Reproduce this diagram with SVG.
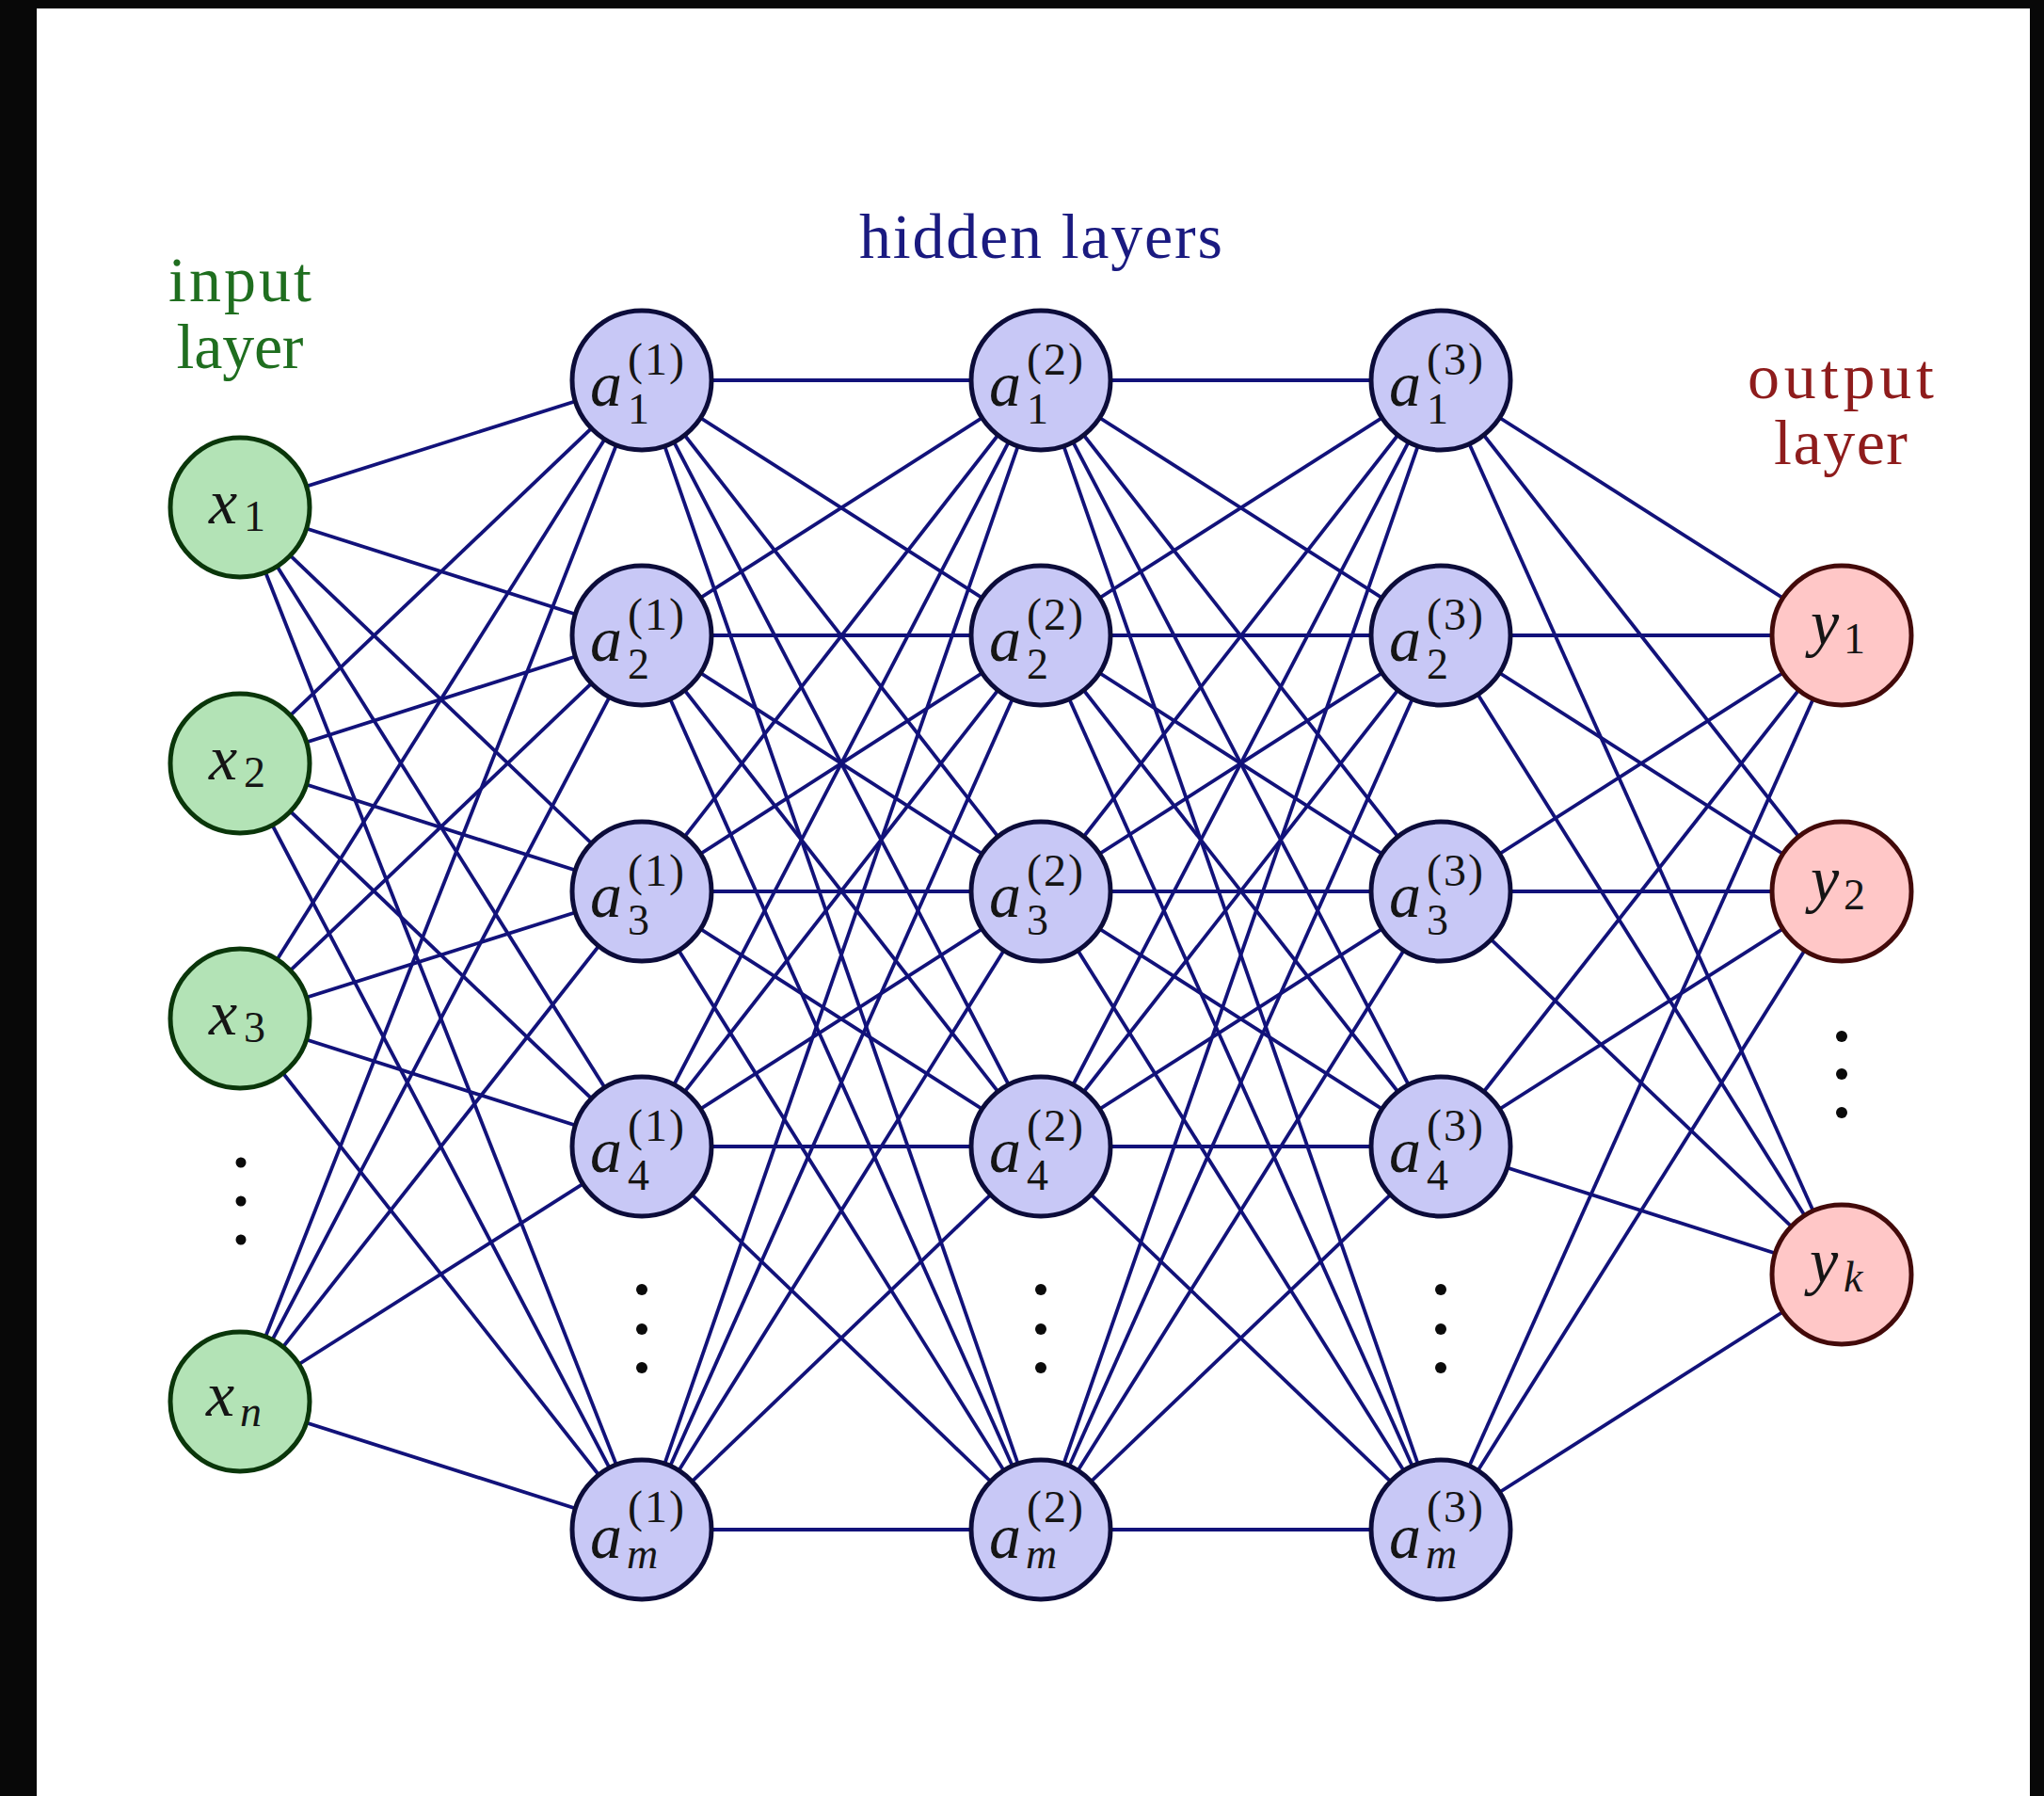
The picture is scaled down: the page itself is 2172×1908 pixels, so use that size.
<svg xmlns="http://www.w3.org/2000/svg" width="2172" height="1908" viewBox="0 0 2172 1908">
<style>
.bg{fill:#ffffff}
.frame{fill:#080808}
.edge{stroke:#12127a;stroke-width:3.8;fill:none}
.in{fill:#b3e3b6;stroke:#0a360a;stroke-width:5}
.hid{fill:#c8c8f6;stroke:#0c0c3a;stroke-width:5}
.out{fill:#ffc7c7;stroke:#430a0a;stroke-width:5}
.m{font-family:"Liberation Serif","Times New Roman",serif;font-style:italic;font-size:68px;fill:#151515}
.s{font-family:"Liberation Serif","Times New Roman",serif;font-size:46px;fill:#151515}
.si{font-family:"Liberation Serif","Times New Roman",serif;font-style:italic;font-size:46px;fill:#151515}
.sup{font-family:"Liberation Serif","Times New Roman",serif;font-size:48px;fill:#151515}
.title{font-family:"Liberation Serif","Times New Roman",serif;font-size:68px;text-anchor:middle}
.dot{fill:#0a0a0a}
</style>
<rect class="bg" x="0" y="0" width="2172" height="1908"/>
<rect class="frame" x="0" y="0" width="39" height="1908"/>
<rect class="frame" x="0" y="0" width="2172" height="9"/>
<rect class="frame" x="2157" y="0" width="15" height="1908"/>

<g id="labels">
<text class="title" fill="#1f6e1f"><tspan x="255" y="320" textLength="152" lengthAdjust="spacing">input</tspan><tspan x="255" y="391" textLength="135" lengthAdjust="spacing">layer</tspan></text>
<text class="title" x="1106" y="274" fill="#1a1a80" textLength="386" lengthAdjust="spacing">hidden layers</text>
<text class="title" fill="#8e1c1c"><tspan x="1956" y="423" textLength="198" lengthAdjust="spacing">output</tspan><tspan x="1956" y="493" textLength="142" lengthAdjust="spacing">layer</tspan></text>
</g>

<g id="connectors">
<line class="edge" x1="255" y1="539" x2="682" y2="404"/>
<line class="edge" x1="255" y1="539" x2="682" y2="675"/>
<line class="edge" x1="255" y1="539" x2="682" y2="947"/>
<line class="edge" x1="255" y1="539" x2="682" y2="1218"/>
<line class="edge" x1="255" y1="539" x2="682" y2="1625"/>
<line class="edge" x1="255" y1="811" x2="682" y2="404"/>
<line class="edge" x1="255" y1="811" x2="682" y2="675"/>
<line class="edge" x1="255" y1="811" x2="682" y2="947"/>
<line class="edge" x1="255" y1="811" x2="682" y2="1218"/>
<line class="edge" x1="255" y1="811" x2="682" y2="1625"/>
<line class="edge" x1="255" y1="1082" x2="682" y2="404"/>
<line class="edge" x1="255" y1="1082" x2="682" y2="675"/>
<line class="edge" x1="255" y1="1082" x2="682" y2="947"/>
<line class="edge" x1="255" y1="1082" x2="682" y2="1218"/>
<line class="edge" x1="255" y1="1082" x2="682" y2="1625"/>
<line class="edge" x1="255" y1="1489" x2="682" y2="404"/>
<line class="edge" x1="255" y1="1489" x2="682" y2="675"/>
<line class="edge" x1="255" y1="1489" x2="682" y2="947"/>
<line class="edge" x1="255" y1="1489" x2="682" y2="1218"/>
<line class="edge" x1="255" y1="1489" x2="682" y2="1625"/>

<line class="edge" x1="682" y1="404" x2="1106" y2="404"/>
<line class="edge" x1="682" y1="404" x2="1106" y2="675"/>
<line class="edge" x1="682" y1="404" x2="1106" y2="947"/>
<line class="edge" x1="682" y1="404" x2="1106" y2="1218"/>
<line class="edge" x1="682" y1="404" x2="1106" y2="1625"/>
<line class="edge" x1="682" y1="675" x2="1106" y2="404"/>
<line class="edge" x1="682" y1="675" x2="1106" y2="675"/>
<line class="edge" x1="682" y1="675" x2="1106" y2="947"/>
<line class="edge" x1="682" y1="675" x2="1106" y2="1218"/>
<line class="edge" x1="682" y1="675" x2="1106" y2="1625"/>
<line class="edge" x1="682" y1="947" x2="1106" y2="404"/>
<line class="edge" x1="682" y1="947" x2="1106" y2="675"/>
<line class="edge" x1="682" y1="947" x2="1106" y2="947"/>
<line class="edge" x1="682" y1="947" x2="1106" y2="1218"/>
<line class="edge" x1="682" y1="947" x2="1106" y2="1625"/>
<line class="edge" x1="682" y1="1218" x2="1106" y2="404"/>
<line class="edge" x1="682" y1="1218" x2="1106" y2="675"/>
<line class="edge" x1="682" y1="1218" x2="1106" y2="947"/>
<line class="edge" x1="682" y1="1218" x2="1106" y2="1218"/>
<line class="edge" x1="682" y1="1218" x2="1106" y2="1625"/>
<line class="edge" x1="682" y1="1625" x2="1106" y2="404"/>
<line class="edge" x1="682" y1="1625" x2="1106" y2="675"/>
<line class="edge" x1="682" y1="1625" x2="1106" y2="947"/>
<line class="edge" x1="682" y1="1625" x2="1106" y2="1218"/>
<line class="edge" x1="682" y1="1625" x2="1106" y2="1625"/>

<line class="edge" x1="1106" y1="404" x2="1531" y2="404"/>
<line class="edge" x1="1106" y1="404" x2="1531" y2="675"/>
<line class="edge" x1="1106" y1="404" x2="1531" y2="947"/>
<line class="edge" x1="1106" y1="404" x2="1531" y2="1218"/>
<line class="edge" x1="1106" y1="404" x2="1531" y2="1625"/>
<line class="edge" x1="1106" y1="675" x2="1531" y2="404"/>
<line class="edge" x1="1106" y1="675" x2="1531" y2="675"/>
<line class="edge" x1="1106" y1="675" x2="1531" y2="947"/>
<line class="edge" x1="1106" y1="675" x2="1531" y2="1218"/>
<line class="edge" x1="1106" y1="675" x2="1531" y2="1625"/>
<line class="edge" x1="1106" y1="947" x2="1531" y2="404"/>
<line class="edge" x1="1106" y1="947" x2="1531" y2="675"/>
<line class="edge" x1="1106" y1="947" x2="1531" y2="947"/>
<line class="edge" x1="1106" y1="947" x2="1531" y2="1218"/>
<line class="edge" x1="1106" y1="947" x2="1531" y2="1625"/>
<line class="edge" x1="1106" y1="1218" x2="1531" y2="404"/>
<line class="edge" x1="1106" y1="1218" x2="1531" y2="675"/>
<line class="edge" x1="1106" y1="1218" x2="1531" y2="947"/>
<line class="edge" x1="1106" y1="1218" x2="1531" y2="1218"/>
<line class="edge" x1="1106" y1="1218" x2="1531" y2="1625"/>
<line class="edge" x1="1106" y1="1625" x2="1531" y2="404"/>
<line class="edge" x1="1106" y1="1625" x2="1531" y2="675"/>
<line class="edge" x1="1106" y1="1625" x2="1531" y2="947"/>
<line class="edge" x1="1106" y1="1625" x2="1531" y2="1218"/>
<line class="edge" x1="1106" y1="1625" x2="1531" y2="1625"/>

<line class="edge" x1="1531" y1="404" x2="1957" y2="675"/>
<line class="edge" x1="1531" y1="404" x2="1957" y2="947"/>
<line class="edge" x1="1531" y1="404" x2="1957" y2="1354"/>
<line class="edge" x1="1531" y1="675" x2="1957" y2="675"/>
<line class="edge" x1="1531" y1="675" x2="1957" y2="947"/>
<line class="edge" x1="1531" y1="675" x2="1957" y2="1354"/>
<line class="edge" x1="1531" y1="947" x2="1957" y2="675"/>
<line class="edge" x1="1531" y1="947" x2="1957" y2="947"/>
<line class="edge" x1="1531" y1="947" x2="1957" y2="1354"/>
<line class="edge" x1="1531" y1="1218" x2="1957" y2="675"/>
<line class="edge" x1="1531" y1="1218" x2="1957" y2="947"/>
<line class="edge" x1="1531" y1="1218" x2="1957" y2="1354"/>
<line class="edge" x1="1531" y1="1625" x2="1957" y2="675"/>
<line class="edge" x1="1531" y1="1625" x2="1957" y2="947"/>
<line class="edge" x1="1531" y1="1625" x2="1957" y2="1354"/>
</g>

<!-- input layer -->
<g id="x1"><circle class="in" cx="255" cy="539" r="74"/><text class="m" x="222" y="556">x</text><text class="s" x="259" y="564">1</text></g>
<g id="x2"><circle class="in" cx="255" cy="811" r="74"/><text class="m" x="222" y="828">x</text><text class="s" x="259" y="836">2</text></g>
<g id="x3"><circle class="in" cx="255" cy="1082" r="74"/><text class="m" x="222" y="1099">x</text><text class="s" x="259" y="1107">3</text></g>
<g id="xn"><circle class="in" cx="255" cy="1489" r="74"/><text class="m" x="219" y="1504">x</text><text class="si" x="255" y="1515">n</text></g>
<g id="input-dots"><circle class="dot" cx="256" cy="1235" r="5.5"/><circle class="dot" cx="256" cy="1276" r="5.5"/><circle class="dot" cx="256" cy="1317" r="5.5"/></g>

<!-- hidden layer 1 -->
<g id="a1-1"><circle class="hid" cx="682" cy="404" r="74"/><text class="m" x="627" y="431">a</text><text class="s" x="667" y="450">1</text><text class="sup" x="667" y="398" textLength="60" lengthAdjust="spacing">(1)</text></g>
<g id="a2-1"><circle class="hid" cx="682" cy="675" r="74"/><text class="m" x="627" y="702">a</text><text class="s" x="667" y="721">2</text><text class="sup" x="667" y="669" textLength="60" lengthAdjust="spacing">(1)</text></g>
<g id="a3-1"><circle class="hid" cx="682" cy="947" r="74"/><text class="m" x="627" y="974">a</text><text class="s" x="667" y="993">3</text><text class="sup" x="667" y="941" textLength="60" lengthAdjust="spacing">(1)</text></g>
<g id="a4-1"><circle class="hid" cx="682" cy="1218" r="74"/><text class="m" x="627" y="1245">a</text><text class="s" x="667" y="1264">4</text><text class="sup" x="667" y="1212" textLength="60" lengthAdjust="spacing">(1)</text></g>
<g id="am-1"><circle class="hid" cx="682" cy="1625" r="74"/><text class="m" x="627" y="1655">a</text><text class="si" x="666" y="1666">m</text><text class="sup" x="667" y="1617" textLength="60" lengthAdjust="spacing">(1)</text></g>
<g id="hidden1-dots"><circle class="dot" cx="682" cy="1370" r="6"/><circle class="dot" cx="682" cy="1412" r="6"/><circle class="dot" cx="682" cy="1453" r="6"/></g>

<!-- hidden layer 2 -->
<g id="a1-2"><circle class="hid" cx="1106" cy="404" r="74"/><text class="m" x="1051" y="431">a</text><text class="s" x="1091" y="450">1</text><text class="sup" x="1091" y="398" textLength="60" lengthAdjust="spacing">(2)</text></g>
<g id="a2-2"><circle class="hid" cx="1106" cy="675" r="74"/><text class="m" x="1051" y="702">a</text><text class="s" x="1091" y="721">2</text><text class="sup" x="1091" y="669" textLength="60" lengthAdjust="spacing">(2)</text></g>
<g id="a3-2"><circle class="hid" cx="1106" cy="947" r="74"/><text class="m" x="1051" y="974">a</text><text class="s" x="1091" y="993">3</text><text class="sup" x="1091" y="941" textLength="60" lengthAdjust="spacing">(2)</text></g>
<g id="a4-2"><circle class="hid" cx="1106" cy="1218" r="74"/><text class="m" x="1051" y="1245">a</text><text class="s" x="1091" y="1264">4</text><text class="sup" x="1091" y="1212" textLength="60" lengthAdjust="spacing">(2)</text></g>
<g id="am-2"><circle class="hid" cx="1106" cy="1625" r="74"/><text class="m" x="1051" y="1655">a</text><text class="si" x="1090" y="1666">m</text><text class="sup" x="1091" y="1617" textLength="60" lengthAdjust="spacing">(2)</text></g>
<g id="hidden2-dots"><circle class="dot" cx="1106" cy="1370" r="6"/><circle class="dot" cx="1106" cy="1412" r="6"/><circle class="dot" cx="1106" cy="1453" r="6"/></g>

<!-- hidden layer 3 -->
<g id="a1-3"><circle class="hid" cx="1531" cy="404" r="74"/><text class="m" x="1476" y="431">a</text><text class="s" x="1516" y="450">1</text><text class="sup" x="1516" y="398" textLength="60" lengthAdjust="spacing">(3)</text></g>
<g id="a2-3"><circle class="hid" cx="1531" cy="675" r="74"/><text class="m" x="1476" y="702">a</text><text class="s" x="1516" y="721">2</text><text class="sup" x="1516" y="669" textLength="60" lengthAdjust="spacing">(3)</text></g>
<g id="a3-3"><circle class="hid" cx="1531" cy="947" r="74"/><text class="m" x="1476" y="974">a</text><text class="s" x="1516" y="993">3</text><text class="sup" x="1516" y="941" textLength="60" lengthAdjust="spacing">(3)</text></g>
<g id="a4-3"><circle class="hid" cx="1531" cy="1218" r="74"/><text class="m" x="1476" y="1245">a</text><text class="s" x="1516" y="1264">4</text><text class="sup" x="1516" y="1212" textLength="60" lengthAdjust="spacing">(3)</text></g>
<g id="am-3"><circle class="hid" cx="1531" cy="1625" r="74"/><text class="m" x="1476" y="1655">a</text><text class="si" x="1515" y="1666">m</text><text class="sup" x="1516" y="1617" textLength="60" lengthAdjust="spacing">(3)</text></g>
<g id="hidden3-dots"><circle class="dot" cx="1531" cy="1370" r="6"/><circle class="dot" cx="1531" cy="1412" r="6"/><circle class="dot" cx="1531" cy="1453" r="6"/></g>

<!-- output layer -->
<g id="y1"><circle class="out" cx="1957" cy="675" r="74"/><text class="m" x="1924" y="685">y</text><text class="s" x="1959" y="694">1</text></g>
<g id="y2"><circle class="out" cx="1957" cy="947" r="74"/><text class="m" x="1924" y="957">y</text><text class="s" x="1959" y="966">2</text></g>
<g id="yk"><circle class="out" cx="1957" cy="1354" r="74"/><text class="m" x="1923" y="1363">y</text><text class="si" x="1959" y="1372">k</text></g>
<g id="output-dots"><circle class="dot" cx="1957" cy="1101" r="6"/><circle class="dot" cx="1957" cy="1141" r="6"/><circle class="dot" cx="1957" cy="1182" r="6"/></g>
</svg>
